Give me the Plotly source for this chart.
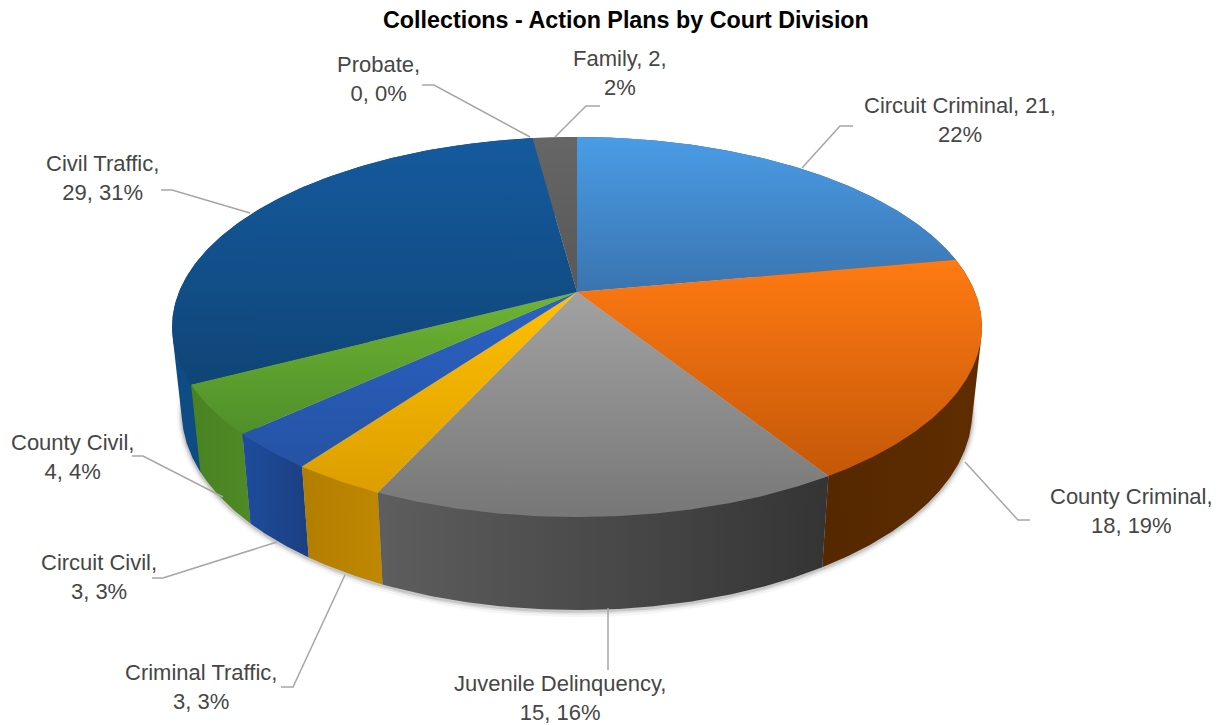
import numpy as np
import plotly.graph_objects as go

# ---------- data ----------
categories = ["Circuit Criminal", "County Criminal", "Juvenile Delinquency", "Criminal Traffic",
              "Circuit Civil", "County Civil", "Civil Traffic", "Probate", "Family"]
values = [21, 18, 15, 3, 3, 4, 29, 0, 2]
# where the label wraps: after the category ("cat") or after the value ("val")
label_wrap = ["val", "cat", "cat", "cat", "cat", "cat", "cat", "cat", "val"]
title_text = "Collections - Action Plans by Court Division"

# ---------- style ----------
top_colors = [("#4a9ce6", "#3a74b0"), ("#ff7a12", "#c45808"), ("#a2a2a2", "#777777"),
              ("#ffc000", "#dc9e00"), ("#2a62c4", "#2553a4"), ("#6fb432", "#4f8f2a"),
              ("#155a9e", "#0f4577"), ("#666666", "#666666"), ("#666666", "#585858")]
wall_colors = [("#2f5f90", "#2f5f90"), ("#552800", "#5f2d00"), ("#5e5e5e", "#343434"),
               ("#b27e00", "#c08800"), ("#1e4c9c", "#1c3f82"), ("#4a8222", "#4f8a26"),
               ("#0f4c84", "#0e4474"), ("#555555", "#555555"), ("#555555", "#555555")]
text_color = "#464646"
leader_color = "#a6a6a6"
label_font = "Liberation Sans"

# projection (layout, pixels)
CX, CY, A, B, K = 577.0, 292.0, 398.0, 183.6, -0.1842
WALL_SX, WALL_DY, WALL_SY = 0.976, 83.5, 1.042

# label and leader layout (pixels)
label_pos = [(960, 120), (1131, 511), (560, 698), (201, 687), (99, 577),
             (72, 457), (102, 178), (378, 79), (620, 73)]
leaders = [[(802, 168), (840, 126), (853, 126)],
           [(965, 462), (1018, 520), (1030, 520)],
           [(608, 608), (608, 670)],
           [(345, 575), (293, 687), (281, 687)],
           [(277, 542), (163, 578), (152, 578)],
           [(223, 497), (143, 456), (132, 456)],
           [(250, 213), (172, 190), (161, 190)],
           [(530, 137), (434, 85), (422, 85)],
           [(555, 137), (586, 106), (600, 106)]]


def top_xy(theta):
    X, Y = np.sin(theta), -np.cos(theta)
    w = 1 + K * Y
    return CX + A * X / w, CY + B * Y / w


def bottom_xy(theta):
    x, y = top_xy(theta)
    return CX + WALL_SX * (x - CX), CY + WALL_DY + WALL_SY * (y - CY)


def hull(x, y):
    pts = sorted(set(zip(np.round(x, 3).tolist(), np.round(y, 3).tolist())))

    def half(seq):
        out = []
        for p in seq:
            while len(out) > 1 and ((out[-1][0] - out[-2][0]) * (p[1] - out[-2][1])
                                    - (out[-1][1] - out[-2][1]) * (p[0] - out[-2][0])) <= 0:
                out.pop()
            out.append(p)
        return out[:-1]

    h = half(pts) + half(pts[::-1])
    h.append(h[0])
    return np.array([p[0] for p in h]), np.array([p[1] for p in h])


total = sum(values)
edges = np.cumsum([0] + values) / total * 2 * np.pi
fig = go.Figure()


def poly(x, y, c0, c1, kind, start, stop):
    fig.add_trace(go.Scatter(
        x=x, y=y, mode="lines", fill="toself", hoverinfo="skip", showlegend=False,
        line=dict(width=0),
        fillgradient=dict(type=kind, colorscale=[[0, c0], [1, c1]], start=start, stop=stop)))


# soft shadow under the pie
ring = np.linspace(0, 2 * np.pi, 360)
for grow, alpha in [(5, 0.04), (3, 0.07), (1.5, 0.12)]:
    bx, by = bottom_xy(ring)
    fig.add_trace(go.Scatter(
        x=CX + (bx - CX) * (1 + grow / 400), y=CY + WALL_DY + (by - CY - WALL_DY) * (1 + grow / 190) + 1,
        mode="lines", fill="toself", hoverinfo="skip", showlegend=False,
        line=dict(width=0), fillcolor=f"rgba(0,0,0,{alpha})"))

# walls first, back to front: only the front part shows below the tops
mids = (edges[:-1] + edges[1:]) / 2
for i in np.argsort(-np.cos(mids)):
    v = values[i]
    if v == 0:
        continue
    t = np.linspace(edges[i], edges[i + 1], max(int(v * 8), 12))
    tx, ty = top_xy(t)
    bx, by = bottom_xy(t)
    x, y = hull(np.r_[tx, bx], np.r_[ty, by])
    c0, c1 = wall_colors[i]
    poly(x, y, c0, c1, "horizontal", float(x.min()), float(x.max()))

# top faces
for i, v in enumerate(values):
    if v == 0:
        continue
    t = np.linspace(edges[i], edges[i + 1], max(int(v * 8), 12))
    tx, ty = top_xy(t)
    x = np.r_[CX, tx, CX]
    y = np.r_[CY, ty, CY]
    c0, c1 = top_colors[i]
    poly(x, y, c0, c1, "vertical", float(y.min()), float(y.max()))

# leader lines
for pts in leaders:
    fig.add_trace(go.Scatter(x=[p[0] for p in pts], y=[p[1] for p in pts], mode="lines",
                             hoverinfo="skip", showlegend=False,
                             line=dict(color=leader_color, width=1.5)))

# labels
annotations = []
for cat, v, wrap, (lx, ly) in zip(categories, values, label_wrap, label_pos):
    pct = round(v / total * 100)
    txt = f"{cat}, {v},<br>{pct}%" if wrap == "val" else f"{cat},<br>{v}, {pct}%"
    annotations.append(dict(x=lx, y=ly, xref="x", yref="y", text=txt, showarrow=False,
                            xanchor="center", yanchor="middle", align="center",
                            font=dict(family=label_font, size=22, color=text_color)))

# title; the page body has an 8px margin, so the axes start at 8
annotations.append(dict(x=626, y=20, xref="x", yref="y", text=f"<b>{title_text}</b>", showarrow=False,
                        xanchor="center", yanchor="middle",
                        font=dict(family="Liberation Sans", size=23.3, color="#000000")))

fig.update_layout(
    width=1215, height=717, autosize=False,
    margin=dict(l=0, r=0, t=0, b=0),
    paper_bgcolor="white", plot_bgcolor="white", showlegend=False,
    xaxis=dict(range=[8, 1223], visible=False, fixedrange=True),
    yaxis=dict(range=[725, 8], visible=False, fixedrange=True),
    annotations=annotations,
)
fig.write_html("out.html")
